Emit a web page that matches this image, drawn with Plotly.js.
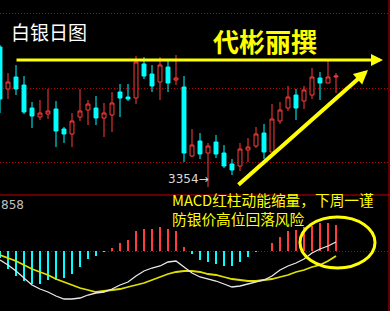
<!DOCTYPE html>
<html><head><meta charset="utf-8">
<script src="https://cdn.plot.ly/plotly-3.0.1.min.js"></script>
<style>html,body{margin:0;padding:0;background:#000;}#chart{width:390px;height:311px;}</style>
</head><body><div id="chart"></div>
<script>
// trading-day index (one candle per day)
const days = [0,1,2,3,4,5,6,7,8,9,10,11,12,13,14,15,16,17,18,19,20,21,22,23,24,25,26,27,28,29,30,31,32,33,34,35,36,37,38,39,40,41,42];
// daily OHLC (silver)
const openP  = [3774,3648,3684,3660,3591,3564,3573,3588,3528,3513,3564,3585,3591,3561,3570,3639,3624,3621,3723,3693,3669,3714,3675,3654,3447,3492,3456,3489,3456,3423,3417,3465,3477,3516,3459,3552,3591,3630,3612,3630,3681,3666,3684];
const highP  = [3780,3696,3720,3687,3609,3615,3648,3612,3534,3576,3648,3615,3627,3606,3639,3663,3663,3747,3744,3720,3744,3732,3750,3687,3528,3516,3486,3510,3480,3438,3486,3501,3534,3543,3603,3609,3657,3648,3657,3711,3699,3732,3696];
const lowP   = [3576,3618,3630,3573,3531,3555,3558,3474,3486,3474,3552,3540,3540,3504,3519,3564,3612,3603,3678,3639,3615,3639,3660,3429,3444,3438,3354,3441,3411,3390,3402,3429,3471,3438,3459,3543,3582,3555,3588,3618,3615,3666,3636];
const closeP = [3618,3669,3648,3579,3567,3576,3582,3522,3513,3552,3582,3603,3561,3576,3606,3621,3618,3729,3687,3657,3720,3666,3681,3456,3480,3453,3477,3453,3417,3405,3468,3474,3513,3459,3558,3585,3624,3591,3645,3684,3666,3684,3687];
// MACD panel
const macdHist = [-7,-18,-25,-30,-33,-33,-29,-29,-27,-23,-16,-8,-5,-1,3,8,11,20,22,22,24,22,20,4,-3,-9,-11,-13,-15,-15,-11,-6,-1,0,8,14,20,21,24,25,28,28,26];
const dif = [-9,-14,-20,-27,-34,-38,-41,-45,-48,-48,-47,-44,-42,-41,-38,-34,-31,-25,-20,-17,-15,-11,-10,-16,-22,-26,-28,-30,-33,-36,-35,-33,-31,-29,-25,-19,-15,-12,-8,-2,2,5,9];
const dea = [-4,-7,-10,-14,-18,-21,-24,-28,-31,-34,-37,-39,-41,-40,-39,-38,-36,-34,-32,-29,-26,-23,-21,-20,-20,-21,-23,-24,-26,-28,-29,-30,-30,-29,-28,-26,-24,-21,-19,-16,-14,-10,-5];
const gridPrices = [3876, 3651, 3429];
const chartTitle = '白银日图';
const author = '代彬丽撰';
const lowLabel = '3354→';
const macdLabel = '858';
const noteLines = ['MACD红柱动能缩量，下周一谨', '防银价高位回落风险'];

const W = 390, H = 311;
const px = x => x / W;
const py = y => 1 - y / H;
const RED = '#ff3c3c', CYAN = '#00ffff', YEL = '#ffff00';

const traces = [
  {
    type: 'candlestick', x: days, open: openP, high: highP, low: lowP, close: closeP,
    xaxis: 'x', yaxis: 'y', hoverinfo: 'skip',
    increasing: {line: {color: RED, width: 1}, fillcolor: '#000000'},
    decreasing: {line: {color: CYAN, width: 1}, fillcolor: CYAN}
  },
  {
    type: 'bar', x: days, y: macdHist, xaxis: 'x', yaxis: 'y2', width: 0.14,
    marker: {color: macdHist.map(v => v >= 0 ? RED : CYAN), line: {width: 0}}, hoverinfo: 'skip'
  },
  {
    type: 'scatter', mode: 'lines', x: days, y: dea, xaxis: 'x', yaxis: 'y2',
    line: {color: '#e0e000', width: 1.8}, hoverinfo: 'skip'
  },
  {
    type: 'scatter', mode: 'lines', x: days, y: dif, xaxis: 'x', yaxis: 'y2',
    line: {color: '#e8e8e8', width: 1.3}, hoverinfo: 'skip'
  }
];

const cjk = '"Noto Sans CJK SC", "Noto Sans", sans-serif';

const layout = {
  width: W, height: H,
  margin: {l: 0, r: 0, t: 0, b: 0, pad: 0},
  paper_bgcolor: '#000', plot_bgcolor: '#000',
  showlegend: false, bargap: 0,
  xaxis: {range: [0, 48.75], showgrid: false, zeroline: false, showticklabels: false, ticks: '',
          rangeslider: {visible: false}, fixedrange: true, showline: false},
  yaxis: {domain: [1 - 195 / H, 1], range: [3330, 3915], tickvals: gridPrices, showticklabels: false,
          ticks: '', showgrid: true, gridcolor: '#b40000', griddash: '1px,2px', gridwidth: 1,
          zeroline: false, showline: false},
  yaxis2: {domain: [0, 1 - 195 / H], range: [-60, 56], tickvals: [0], showticklabels: false,
           ticks: '', showgrid: true, gridcolor: '#b40000', griddash: '1px,2px', gridwidth: 1,
           zeroline: false, showline: false},
  shapes: [
    {type: 'line', xref: 'paper', yref: 'paper', x0: 0, x1: 1, y0: py(195), y1: py(195),
     line: {color: '#c80000', width: 1}},
    {type: 'line', xref: 'paper', yref: 'paper', x0: px(389), x1: px(389), y0: 0, y1: 1,
     line: {color: '#c80000', width: 1}},
    {type: 'circle', xref: 'paper', yref: 'paper', x0: px(300), x1: px(375), y0: py(268), y1: py(217),
     line: {color: YEL, width: 3}}
  ],
  annotations: [
    {xref: 'paper', yref: 'paper', x: px(9), y: py(31), xanchor: 'left', yanchor: 'middle',
     text: chartTitle, showarrow: false, font: {family: cjk, size: 19, color: '#ffffff'}},
    {xref: 'paper', yref: 'paper', x: px(265), y: py(40), xanchor: 'center', yanchor: 'middle',
     text: author, showarrow: false, font: {family: cjk, size: 26, color: YEL, weight: 700}},
    {xref: 'paper', yref: 'paper', x: px(166), y: py(179), xanchor: 'left', yanchor: 'middle',
     text: lowLabel, showarrow: false, font: {family: 'DejaVu Sans, sans-serif', size: 12, color: '#d8d8d8'}},
    {xref: 'paper', yref: 'paper', x: px(-1), y: py(205), xanchor: 'left', yanchor: 'middle',
     text: macdLabel, showarrow: false, font: {family: 'DejaVu Sans, sans-serif', size: 12, color: '#c0c0c0'}},
    {xref: 'paper', yref: 'paper', x: px(170), y: py(209), xanchor: 'left', yanchor: 'middle', align: 'left',
     text: noteLines.join('<br>'), showarrow: false, font: {family: cjk, size: 14.7, color: YEL}},
    {xref: 'paper', yref: 'paper', x: px(383), y: py(60), ax: -368, ay: 0, text: '',
     showarrow: true, arrowhead: 2, arrowsize: 0.8, arrowwidth: 3, arrowcolor: YEL, standoff: 0},
    {xref: 'paper', yref: 'paper', x: px(368), y: py(70), ax: -131, ay: 116, text: '',
     showarrow: true, arrowhead: 2, arrowsize: 0.7, arrowwidth: 4, arrowcolor: YEL, standoff: 0}
  ]
};

Plotly.newPlot('chart', traces, layout, {staticPlot: true, displayModeBar: false});
</script>
</body></html>
